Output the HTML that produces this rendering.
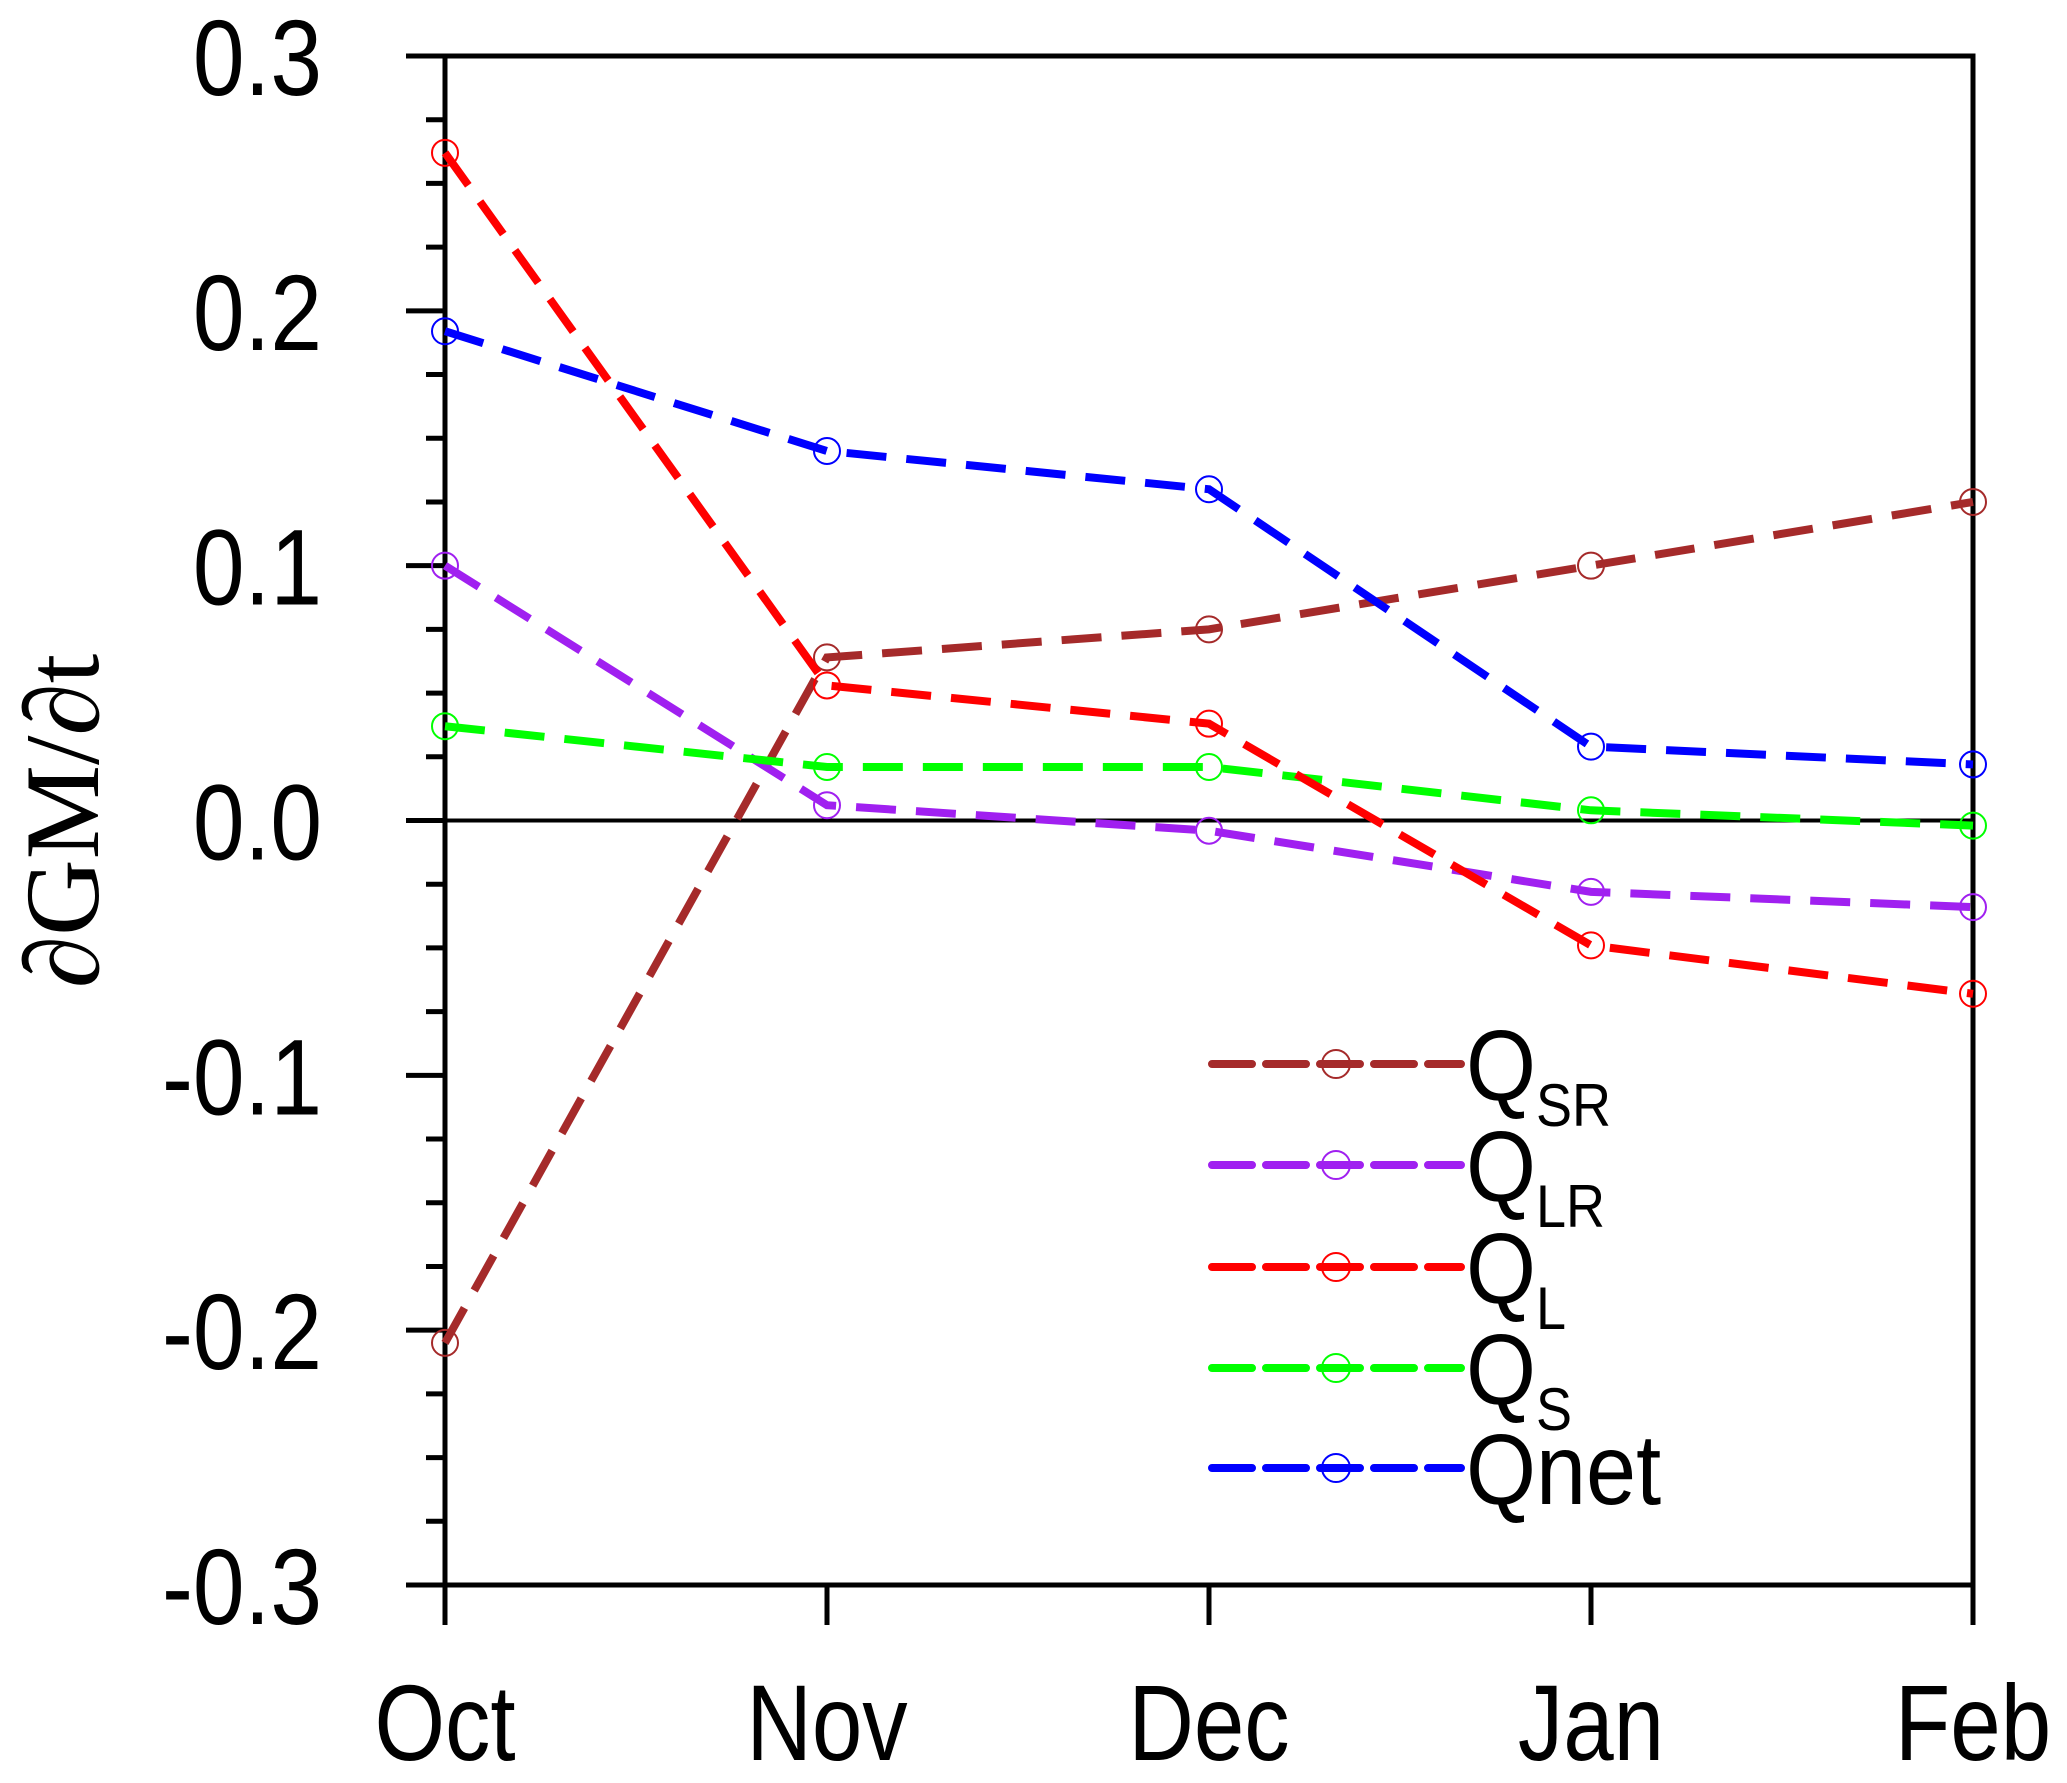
<!DOCTYPE html>
<html><head><meta charset="utf-8"><style>
html,body{margin:0;padding:0;background:#fff;}
svg{display:block;font-family:"Liberation Sans",sans-serif;}
</style></head><body>
<svg id="chart" width="2067" height="1783" viewBox="0 0 2067 1783" xmlns="http://www.w3.org/2000/svg">
<g id="axes"></g>
<g id="series"></g>
<g id="legend"></g>
<text x="0" y="0" transform="translate(98,821) rotate(-90)" text-anchor="middle" font-family="Liberation Serif, serif" font-size="106">∂GM/∂t</text>
</svg>
<script>
const months = ["Oct","Nov","Dec","Jan","Feb"];
const yTicks = [0.3,0.2,0.1,0.0,-0.1,-0.2,-0.3];
const yTickLabels = ["0.3","0.2","0.1","0.0","-0.1","-0.2","-0.3"];
const qsr = [-0.205,0.064,0.075,0.100,0.125];
const qlr = [0.100,0.006,-0.004,-0.028,-0.034];
const ql = [0.262,0.053,0.038,-0.049,-0.068];
const qs = [0.037,0.021,0.021,0.004,-0.002];
const qnet = [0.192,0.145,0.130,0.029,0.022];
const seriesNames = ["QSR","QLR","QL","QS","Qnet"];

const NS="http://www.w3.org/2000/svg";
const X0=445,X1=1973,Y0=56,Y1=1585;
const ymin=-0.3,ymax=0.3;
function xs(i){return X0+(X1-X0)*i/(months.length-1);}
function ys(v){return Y0+(ymax-v)/(ymax-ymin)*(Y1-Y0);}
function mk(tag,attrs,parent){const e=document.createElementNS(NS,tag);for(const k in attrs)e.setAttribute(k,attrs[k]);parent.appendChild(e);return e;}
const axes=document.getElementById('axes');
let f=mk('rect',{x:X0,y:Y0,width:X1-X0,height:Y1-Y0,fill:'none',stroke:'#000','stroke-width':5},axes);


let z=mk('line',{x1:X0,x2:X1,y1:ys(0),y2:ys(0),stroke:'#000','stroke-width':4},axes);


for(let v=-0.3;v<=0.3001;v+=0.025){
  const major=Math.abs(Math.round(v*10)-v*10)<1e-6;
  const t=mk('line',{x1:major?406:426,x2:X0,y1:ys(v),y2:ys(v),stroke:'#000','stroke-width':5},axes);
  
  
}
yTicks.forEach((v,i)=>{
  const t=mk('text',{x:0,y:0,transform:`translate(322,${ys(v)+39}) scale(0.86,1)`,'text-anchor':'end','font-size':108},axes);
  t.textContent=yTickLabels[i];
  
  
});
months.forEach((m,i)=>{
  const t=mk('line',{x1:xs(i),x2:xs(i),y1:Y1,y2:1625,stroke:'#000','stroke-width':5},axes);
  
  
  const l=mk('text',{x:0,y:0,transform:`translate(${xs(i)},1760) scale(0.84,1)`,'text-anchor':'middle','font-size':108},axes);
  l.textContent=m;
  
  
});
const colors=["#a52a2a","#a020f0","#ff0000","#00ff00","#0000ff"];
const data=[qsr,qlr,ql,qs,qnet];
const sg=document.getElementById('series');
[0,1,3,2,4].forEach(k=>{
  const pts=data[k].map((v,i)=>xs(i)+','+ys(v)).join(' ');
  const pl=mk('polyline',{points:pts,fill:'none',stroke:colors[k],'stroke-width':8,'stroke-dasharray':'40 20','stroke-linecap':'butt'},sg);
  
  
  data[k].forEach((v,i)=>{
    const c=mk('circle',{cx:xs(i),cy:ys(v),r:13,fill:'none',stroke:colors[k],'stroke-width':2},sg);
    
    
  });
});
const lg=document.getElementById('legend');
const rows=[1064,1165,1267,1368,1468];
const subs=["SR","LR","L","S",null];
rows.forEach((y,k)=>{
  const l=mk('line',{x1:1212,x2:1461,y1:y,y2:y,stroke:colors[k],'stroke-width':8,'stroke-dasharray':'40 14','stroke-linecap':'round'},lg);
  
  
  const c=mk('circle',{cx:1336,cy:y,r:14,fill:'none',stroke:colors[k],'stroke-width':2},lg);
  
  
  const t=mk('text',{x:0,y:0,transform:`translate(1466,${y+36}) scale(0.9,1)`,'font-size':100},lg);
  
  
  if(subs[k]){
    t.appendChild(document.createTextNode('Q'));
    const s=mk('tspan',{'font-size':60,dy:26},t);
    s.textContent=subs[k];
  } else t.textContent='Qnet';
});
</script>
</body></html>
